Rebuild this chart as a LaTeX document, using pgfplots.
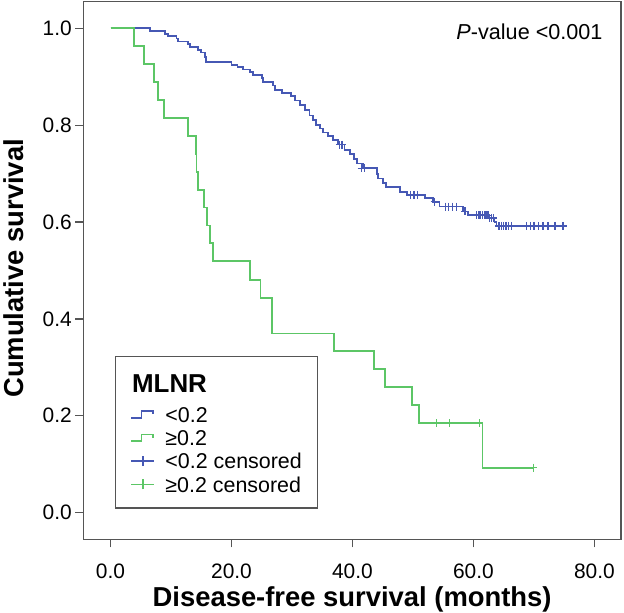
\documentclass[border=0pt]{standalone}
\usepackage{fontspec}
\setmainfont{Liberation Sans}
\usepackage{pgfplots}
\pgfplotsset{compat=1.18}
\definecolor{kmblue}{RGB}{70,88,180}
\definecolor{kmgreen}{RGB}{92,198,102}
\definecolor{axgray}{RGB}{85,85,85}
\begin{document}
\begin{tikzpicture}
\begin{axis}[
  at={(0,0)}, anchor=south west,
  scale only axis, width=537.7bp, height=537.6bp,
  xmin=-4.5, xmax=84.4, ymin=-0.055, ymax=1.055,
  xtick={0,20,40,60,80}, ytick={0,0.2,0.4,0.6,0.8,1},
  xtick pos=left, ytick pos=left, tick align=outside,
  major tick length=8bp,
  axis line style={draw=axgray, line width=1.3bp},
  every tick/.style={draw=axgray, line width=1.3bp},
  /pgf/number format/assume math mode=true,
  /pgf/number format/.cd, fixed, fixed zerofill, precision=1, /pgfplots/.cd,
  ticklabel style={font=\fontsize{21}{24}\selectfont},
  xticklabel style={yshift=-13bp},
  xlabel={\textbf{Disease-free survival (months)}},
  ylabel={\textbf{Cumulative survival}},
  xlabel style={font=\fontsize{27.5}{32}\selectfont, at={(axis description cs:0.5,-0.1255)}, anchor=base},
  ylabel style={font=\fontsize{27.5}{32}\selectfont, at={(axis description cs:-0.13,0.504)}, anchor=center},
  legend style={at={(rel axis cs:0.059,0.057)}, anchor=south west, draw=axgray, line width=1.3bp, fill=white,
    font=\fontsize{21.5}{24}\selectfont, inner xsep=15bp, inner ysep=12bp, row sep=0bp,
    nodes={draw=none, inner xsep=1bp, inner ysep=1bp, text height=18.35bp, text depth=2.95bp},
    /tikz/every odd column/.append style={column sep=9.3bp}},
  legend cell align=left,
  clip=false,
]
\addlegendimage{legend image code/.code={\path[draw=none] (0bp,-19.65bp) rectangle (23bp,15bp); \node[overlay, draw=none, fill=none, text=black, anchor=west, inner sep=0pt, text height=18.6bp, text depth=0bp, font=\fontsize{26}{30}\selectfont\bfseries] at (0bp,0bp) {MLNR};}}
\addlegendentry{}

\addplot[const plot, color=kmblue, line width=1.8bp,
  legend image code/.code={\path[draw=none] (0bp,-5bp) rectangle (23bp,5bp); \draw[draw=kmblue, line width=1.6bp] (0bp,-3.3bp) -- (10bp,-3.3bp) -- (10bp,3.3bp) -- (21.7bp,3.3bp) -- (21.7bp,0bp);}]
coordinates {
(0,1.0) (6.5,0.995) (9.0,0.989) (9.5,0.984) (10.9,0.979) (11.2,0.973) (12.8,0.968) (13.1,0.962)
(14.5,0.956) (15.0,0.950) (15.6,0.941) (15.8,0.931) (20.0,0.925) (21.0,0.920) (21.9,0.915)
(23.0,0.910) (23.6,0.904) (25.0,0.897) (25.2,0.889) (26.9,0.882) (27.2,0.873) (28.3,0.866)
(29.9,0.860) (30.5,0.851) (31.3,0.841) (32.1,0.831) (32.9,0.820) (33.5,0.810) (34.0,0.800)
(34.6,0.793) (35.1,0.785) (35.9,0.777) (36.8,0.769) (37.6,0.760) (38.7,0.749) (39.6,0.740)
(40.2,0.730) (40.7,0.721) (41.8,0.711) (44.0,0.700) (44.2,0.690) (45.0,0.680) (45.6,0.672)
(47.8,0.662) (49.0,0.656) (52.0,0.649) (53.3,0.642) (54.4,0.632) (58.3,0.622) (59.1,0.614)
(62.5,0.608) (63.5,0.600) (63.8,0.592) (74.8,0.592)
};
\addlegendentry{<0.2}

\addplot[const plot, color=kmgreen, line width=1.8bp,
  legend image code/.code={\path[draw=none] (0bp,-5bp) rectangle (23bp,5bp); \draw[draw=kmgreen, line width=1.6bp] (0bp,-3.3bp) -- (10bp,-3.3bp) -- (10bp,3.3bp) -- (21.7bp,3.3bp) -- (21.7bp,0bp);}]
coordinates {
(0,1.0) (3.9,0.963) (5.5,0.926) (7.2,0.889) (7.9,0.852) (8.8,0.815) (12.8,0.778) (14.1,0.741)
(14.2,0.704) (14.5,0.667) (15.5,0.630) (15.9,0.593) (16.5,0.556) (17.0,0.519) (23.0,0.481)
(24.8,0.444) (26.7,0.370) (37.0,0.333) (43.6,0.296) (45.4,0.259) (49.9,0.222) (51.0,0.185)
(61.5,0.093) (69.9,0.093)
};
\addlegendentry{≥0.2}

\addplot[only marks, mark=+, mark size=4bp, color=kmblue, mark options={draw=kmblue, line width=1.4bp},
  legend image code/.code={\draw[draw=kmblue, line width=1.4bp] (0bp,0bp) -- (23bp,0bp) (11.5bp,-5bp) -- (11.5bp,5bp);}]
coordinates {
(37.9,0.760) (38.3,0.760) (41.5,0.711) (42.0,0.711) (49.6,0.656) (50.2,0.656) (50.8,0.656)
(53.6,0.642) (55.4,0.632) (55.9,0.632) (56.5,0.632) (57.2,0.632) (58.6,0.622)
(60.5,0.614) (60.9,0.614) (61.2,0.614) (61.5,0.614) (61.8,0.614) (62.1,0.614) (62.4,0.614)
(62.7,0.608) (63.0,0.608) (63.3,0.608)
(64.2,0.592) (64.6,0.592) (65.0,0.592) (65.4,0.592) (65.8,0.592) (66.3,0.592)
(68.8,0.592) (69.4,0.592) (70.0,0.592) (70.8,0.592) (71.5,0.592) (72.3,0.592) (73.5,0.592) (74.8,0.592)
};
\addlegendentry{<0.2 censored}

\addplot[only marks, mark=+, mark size=4bp, color=kmgreen, mark options={draw=kmgreen, line width=1.4bp},
  legend image code/.code={\draw[draw=kmgreen, line width=1.4bp] (0bp,0bp) -- (23bp,0bp) (11.5bp,-5bp) -- (11.5bp,5bp);}]
coordinates {
(53.9,0.185) (56.0,0.185) (61.0,0.185) (69.9,0.093)
};
\addlegendentry{≥0.2 censored}

\node[anchor=base east, inner sep=0pt, font=\fontsize{21.7}{25}\selectfont] at (axis description cs:0.966,0.930) {\textit{P}-value <0.001};
\end{axis}
\pgfresetboundingbox
\path (-83.3bp,-73.7bp) rectangle (540.7bp,539.3bp);
\end{tikzpicture}
\end{document}
